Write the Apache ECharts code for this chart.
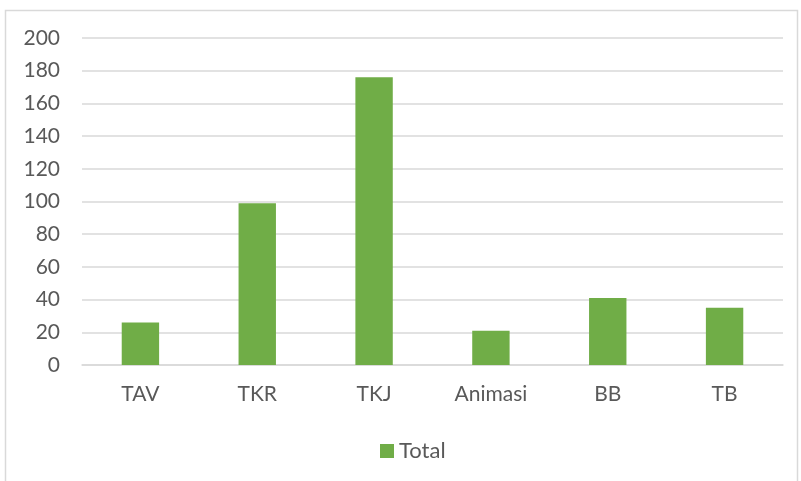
<!DOCTYPE html>
<html>
<head>
<meta charset="utf-8">
<script src="https://cdn.jsdelivr.net/npm/echarts@6/dist/echarts.min.js"></script>
<style>
  html, body { margin: 0; padding: 0; background: #fff; }
  #chart { width: 801px; height: 481px; }
</style>
</head>
<body>
<div id="chart"></div>
<script>
// data
var categories = ['TAV', 'TKR', 'TKJ', 'Animasi', 'BB', 'TB'];
var totals = [26, 99, 176, 21, 41, 35];

var myChart = echarts.init(document.getElementById('chart'));
myChart.setOption({
  animation: false,
  textStyle: { fontFamily: 'Lato' },
  graphic: [
    {
      type: 'rect',
      shape: { x: 5.5, y: 10.5, width: 792, height: 480 },
      style: { fill: 'none', stroke: '#d9d9d9', lineWidth: 1.5 },
      silent: true
    }
  ],
  grid: { left: 82, right: 18, top: 38, bottom: 116, containLabel: false },
  legend: {
    top: 435,
    left: 375,
    icon: 'rect',
    itemWidth: 14,
    itemHeight: 14,
    itemGap: 6,
    textStyle: { color: '#595959', fontSize: 22, fontFamily: 'Lato', padding: [0, 0, 0, 0] },
    data: ['Total']
  },
  xAxis: {
    type: 'category',
    data: categories,
    axisLine: { lineStyle: { color: '#d9d9d9', width: 1.5 } },
    axisTick: { show: false },
    axisLabel: { color: '#595959', fontSize: 21, margin: 19 }
  },
  yAxis: {
    type: 'value',
    min: 0,
    max: 200,
    interval: 20,
    axisLine: { show: false },
    axisTick: { show: false },
    axisLabel: { color: '#595959', fontSize: 21, margin: 22 },
    splitLine: { lineStyle: { color: '#d9d9d9', width: 1.5 } }
  },
  series: [
    {
      name: 'Total',
      type: 'bar',
      data: totals,
      barWidth: '32%',
      itemStyle: { color: '#70ad47' }
    }
  ]
});
</script>
</body>
</html>
